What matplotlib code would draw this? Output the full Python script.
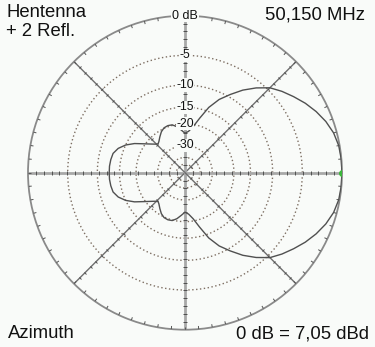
import numpy as np
import matplotlib.pyplot as plt
from matplotlib.markers import MarkerStyle
from matplotlib.transforms import Affine2D

# azimuth pattern, 0..180 deg (pattern is mirror symmetric)
az_deg = [0, 5, 10, 15, 20, 25, 30, 35, 40, 45, 50, 55, 60, 65, 70, 75, 80, 85,
          90, 95, 100, 105, 110, 115, 120, 125, 130, 133, 136, 140, 145, 150,
          155, 160, 165, 170, 175, 180]
gain_db = [0, -0.02, -0.1, -0.35, -0.8, -1.4, -2.1, -2.9, -3.7, -4.6, -6.0,
           -7.6, -9.5, -11.4, -14.0, -17.6, -20.8, -22.8, -23.7, -22.3, -20.8,
           -19.8, -19.6, -19.8, -20.6, -21.9, -23.2, -23.7, -23.0, -21.6,
           -19.5, -17.0, -15.0, -13.6, -12.8, -12.6, -12.5, -12.5]

ring_db = [0, -5, -10, -15, -20, -30, -40, -50]
label_db = [0, -5, -10, -15, -20, -30]
label_txt = ['0 dB', '-5', '-10', '-15', '-20', '-30']

title_left = 'Hentenna\n+ 2 Refl.'
title_right = '50,150 MHz'
foot_left = 'Azimuth'
foot_right = '0 dB = 7,05 dBd'

bg = '#f9fbf9'
font = 'Liberation Sans'


# ARRL style log scale: radius shrinks by 0.89 every 2 dB
def fwd(d):
    return 0.89 ** (-np.asarray(d, dtype=float) / 2)


def inv(r):
    r = np.clip(np.asarray(r, dtype=float), 1e-12, None)
    return -2 * np.log(r) / np.log(0.89)


fig = plt.figure(figsize=(3.75, 3.47), dpi=100)
fig.patch.set_facecolor(bg)
ax = fig.add_axes([28 / 375, 17.3 / 347, 314 / 375, 314 / 347], projection='polar')
ax.set_facecolor(bg)
ax.set_rscale('function', functions=(fwd, inv))
ax.set_rlim(-200, 0)
ax.grid(False)
ax.set_xticks([])
ax.set_yticks([])
ax.spines['polar'].set_color('#8a8a8a')
ax.spines['polar'].set_linewidth(1.3)

# rings
circ = np.linspace(0, 2 * np.pi, 400)
for d in ring_db[1:]:
    ax.plot(circ, np.full_like(circ, d), ls=(0, (1, 1.8)), lw=1.0, color='#7d6e62', zorder=1)

# spokes + ticks
r_ticks = inv(np.arange(0.05, 0.99, 0.05))
for a in range(0, 360, 45):
    t = np.deg2rad(a)
    if a % 90 == 0:
        ax.plot([t, t], [-200, 0], color='#a8a8a8', lw=2.0, zorder=2)
    else:
        ax.plot([t, t], [-200, 0], color='#6e6e6e', lw=1.0, zorder=2)
    mk = MarkerStyle('_', transform=Affine2D().rotate_deg(a + 90))
    ax.plot(np.full_like(r_ticks, t), r_ticks, ls='none', marker=mk,
            ms=2.2, mew=0.7, color='#505050', zorder=3)

# ticks on outer circle
ax.vlines(np.deg2rad(np.arange(0, 360, 5)), inv(0.98), 0, color='#555555', lw=0.7, zorder=3)

# pattern
az = np.array(az_deg, dtype=float)
g = np.array(gain_db, dtype=float)
theta = np.deg2rad(np.concatenate([az, 360 - az[::-1][1:]]))
gain = np.concatenate([g, g[::-1][1:]])
ax.plot(theta, gain, color='#505050', lw=1.0, zorder=4)
ax.plot([0], [gain_db[0]], 'o', ms=4, color='#3cb83c', zorder=5)

# ring labels
for d, s in zip(label_db, label_txt):
    ax.text(np.pi / 2, d, s, ha='center', va='center', family=font,
            fontsize=9 if d == 0 else 8.8, color='#111111', zorder=6,
            bbox=dict(boxstyle='square,pad=0.05', fc=bg, ec='none'))

fig.text(6 / 375, 1 - 4 / 347, title_left, ha='left', va='top', family=font,
         fontsize=13.3, color='#111111', linespacing=1.15)
fig.text(365 / 375, 1 - 7 / 347, title_right, ha='right', va='top', family=font,
         fontsize=13.3, color='#111111')
fig.text(8 / 375, 1 - 338.5 / 347, foot_left, ha='left', va='baseline', family=font,
         fontsize=13.3, color='#111111')
fig.text(369.5 / 375, 1 - 338.5 / 347, foot_right, ha='right', va='baseline', family=font,
         fontsize=13.3, color='#111111')

fig.savefig('out.png', dpi=100, facecolor=bg)
